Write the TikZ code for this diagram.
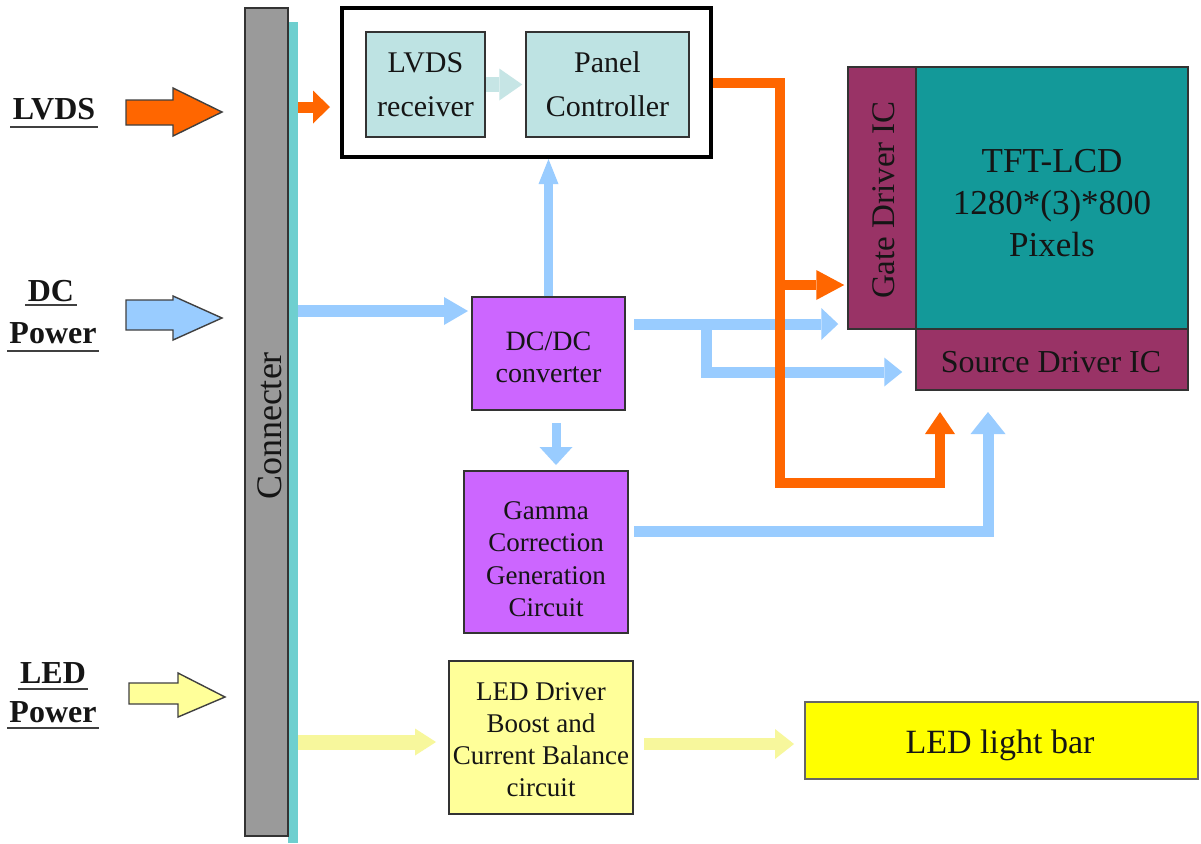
\documentclass[tikz,border=0pt]{standalone}
\usepackage{fontspec}
\setmainfont{Liberation Serif}
\usetikzlibrary{arrows.meta}
\definecolor{orangeC}{HTML}{FF6600}
\definecolor{blueC}{HTML}{99CCFF}
\definecolor{yellowA}{HTML}{F7F79C}
\definecolor{paleC}{HTML}{C6E5E5}
\definecolor{rxC}{HTML}{BEE3E3}
\definecolor{grayC}{HTML}{9A9A9A}
\definecolor{stripeC}{HTML}{6ECFCF}
\definecolor{maroonC}{HTML}{993366}
\definecolor{tealC}{HTML}{139999}
\definecolor{violetC}{HTML}{CC66FF}
\definecolor{ledC}{HTML}{FFFF99}
\definecolor{barC}{HTML}{FFFF00}
\definecolor{inkC}{HTML}{151515}
\begin{document}
\begin{tikzpicture}[x=0.5pt,y=-0.5pt,
  box/.style={draw=black!80, line width=0.75pt, inner sep=0pt, align=center, text=inkC},
  txt/.style={align=center, text=inkC, inner sep=0pt},
  lbl/.style={font=\fontsize{16}{18}\selectfont\bfseries, inner sep=1pt, text=inkC},
  ul/.style={draw=black!75, line width=1pt},
  ob/.style={draw=orangeC, line width=5pt},
  bb/.style={draw=blueC, line width=5.5pt},
  yb/.style={draw=yellowA, line width=7pt},
  hd/.style 2 args={-{Triangle[width=#1,length=#2,line width=0pt]}},
  blockarrow/.style={draw=black!75, line width=0.7pt, line join=miter}
]
\fill[white] (0,0) rectangle (1201,843);
\useasboundingbox (0,0) rectangle (1201,843);

% connector bar
\node[fill=stripeC, minimum width=5pt, minimum height=410.5pt, inner sep=0pt] (stripe) at (293,432.5) {};
\node[box, fill=grayC, minimum width=21.5pt, minimum height=414pt] (conn) at (266.5,422) {};
\node[rotate=90, font=\fontsize{18}{20}\selectfont, text=inkC, inner sep=0pt] (conntxt) at (270,426) {Connecter};

% input labels
\node[lbl, anchor=base] (lvdsl) at (54,119) {LVDS};
\draw[ul] ([yshift=-4pt]lvdsl.base west) -- ([yshift=-4pt]lvdsl.base east);
\node[lbl, anchor=base] (dcl) at (51,301) {DC};
\draw[ul] ([yshift=-2pt]dcl.base west) -- ([yshift=-2pt]dcl.base east);
\node[lbl, anchor=base] (dcp) at (53,343) {Power};
\draw[ul] ([yshift=-4pt]dcp.base west) -- ([yshift=-4pt]dcp.base east);
\node[lbl, anchor=base] (ledl) at (53,683) {LED};
\draw[ul] ([yshift=-3pt]ledl.base west) -- ([yshift=-3pt]ledl.base east);
\node[lbl, anchor=base] (ledp) at (53,722) {Power};
\draw[ul] ([yshift=-3pt]ledp.base west) -- ([yshift=-3pt]ledp.base east);

% input block arrows
\filldraw[blockarrow, fill=orangeC] (126,100) -- (173,100) -- (173,88) -- (222,112) -- (173,136) -- (173,125) -- (126,125) -- cycle;
\filldraw[blockarrow, fill=blueC] (126,300) -- (173,300) -- (173,296) -- (222,318) -- (173,340) -- (173,330) -- (126,330) -- cycle;
\filldraw[blockarrow, fill=ledC] (129,683) -- (178,683) -- (178,673) -- (225,697) -- (178,717) -- (178,704) -- (129,704) -- cycle;

% top controller box
\node[draw=black, line width=2pt, fill=white, minimum width=184.5pt, minimum height=74.5pt, inner sep=0pt] (topbox) at (526.5,82.5) {};
\node[box, fill=rxC, minimum width=59.5pt, minimum height=52.5pt, font=\fontsize{15}{22}\selectfont] (rx) at (425.5,84.5) {LVDS\\receiver};
\node[box, fill=rxC, minimum width=81.5pt, minimum height=52.5pt, font=\fontsize{15}{22}\selectfont] (pc) at (607.5,84.5) {Panel\\Controller};
\draw[draw=paleC, line width=7.5pt, -{Triangle[width=16pt,length=11.5pt,line width=0pt]}, shorten >=1.5pt] (rx.east) -- (pc.west);

% panel
\node[box, fill=maroonC, minimum width=34pt, minimum height=131pt] (gate) at (882,198) {};
\node[rotate=90, font=\fontsize{16.5}{18}\selectfont, text=inkC, inner sep=0pt] (gatetxt) at (884,200) {Gate Driver IC};
\node[box, fill=tealC, minimum width=136pt, minimum height=131pt] (tft) at (1052,198) {};
\node[txt, font=\fontsize{17.5}{21}\selectfont] (tfttxt) at (1052,203) {TFT-LCD\\1280*(3)*800\\Pixels};
\node[box, fill=maroonC, minimum width=136pt, minimum height=30.5pt] (src) at (1052,359.5) {};
\node[txt, font=\fontsize{16}{18}\selectfont] (srctxt) at (1051,362) {Source Driver IC};

% violet boxes
\node[box, fill=violetC, minimum width=76.5pt, minimum height=56.5pt] (dcdc) at (548.5,353.5) {};
\node[txt, font=\fontsize{14}{16}\selectfont] (dcdctxt) at (548.5,357) {DC/DC\\converter};
\node[box, fill=violetC, minimum width=82pt, minimum height=81pt] (gamma) at (546,552) {};
\node[txt, font=\fontsize{13.5}{16.25}\selectfont] (gammatxt) at (546,559) {Gamma\\Correction\\Generation\\Circuit};

% LED boxes
\node[box, fill=ledC, minimum width=92pt, minimum height=76.5pt] (led) at (541,737.5) {};
\node[txt, font=\fontsize{13.5}{16}\selectfont] (ledtxt) at (541,740) {LED Driver\\Boost and\\Current Balance\\circuit};
\node[box, draw=black!60, fill=barC, minimum width=196.5pt, minimum height=38.5pt] (bar) at (1001.5,740.5) {};
\node[txt, font=\fontsize{17}{19}\selectfont] (bartxt) at (1000,745) {LED light bar};

% coordinates
\coordinate (os) at (330,107);
\coordinate (bd) at (468,311);
\coordinate (bg1) at (634,324);
\coordinate (bs1) at (706,324);
\coordinate (bs2) at (706,372);
\coordinate (bv1) at (556,423);
\coordinate (bv2) at (556,465);
\coordinate (bm0) at (634,531);
\coordinate (bm1) at (988,531);
\coordinate (bm2) at (988,412);
\coordinate (o1) at (780,83);
\coordinate (o2) at (780,483);
\coordinate (o3) at (940,483);
\coordinate (o4) at (940,412);
\coordinate (ob) at (780,285);
\coordinate (y1) at (436,742);
\coordinate (y2) at (644,744);
\coordinate (y3) at (794,744);

% blue connectors
\draw[bb, line width=6pt, hd={14pt}{12pt}] (stripe.east |- bd) -- (bd);
\draw[bb, line width=4.5pt, hd={10pt}{12.5pt}] (dcdc.north) -- (dcdc.north |- topbox.south);
\draw[bb, hd={16pt}{8.5pt}, shorten >=4.5pt] (bg1) -- (gate.west |- bg1);
\draw[bb, hd={14.5pt}{9pt}, shorten >=6.5pt] (bs1) -- (bs2) -- (src.west |- bs2);
\draw[bb, line width=4.5pt, hd={16.5pt}{9pt}] (bv1) -- (bv2);
\draw[bb, hd={17.5pt}{11pt}] (bm0) -- (bm1) -- (bm2);

% orange connectors
\draw[ob, line width=5.5pt, hd={16.5pt}{8.5pt}] (stripe.east |- os) -- (os);
\draw[ob, hd={15pt}{11pt}] (topbox.east |- o1) -- (o1) -- (o2) -- (o3) -- (o4);
\draw[ob, hd={15pt}{14pt}, shorten >=1.5pt] (ob) -- (gate.west |- ob);

% yellow connectors
\draw[yb, line width=7.5pt, hd={13.5pt}{10.5pt}] (stripe.east |- y1) -- (y1);
\draw[yb, line width=6pt, hd={15pt}{9.5pt}] (y2) -- (y3);
\end{tikzpicture}
\end{document}
